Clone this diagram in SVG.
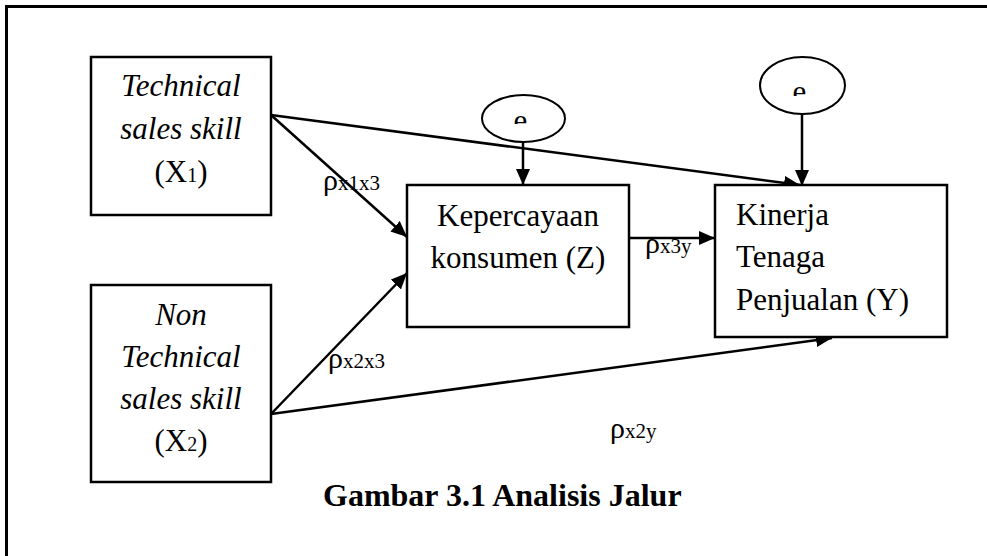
<svg xmlns="http://www.w3.org/2000/svg" width="987" height="556" viewBox="0 0 987 556">
  <style>
    .box { fill: #fff; stroke: #000; stroke-width: 2.5; }
    .err { fill: #fff; stroke: #000; stroke-width: 2; }
    .t { font-family: "Liberation Serif", "Times New Roman", serif; font-size: 31px; fill: #000; }
    .it { font-style: italic; }
    .sub { font-size: 20px; }
    .rho { font-family: "Liberation Serif", "Times New Roman", serif; font-size: 30px; fill: #000; }
    .rsub { font-size: 21px; }
    .edge { fill: none; stroke: #000; stroke-width: 2.5; marker-end: url(#arrow); }
    .cap { font-family: "Liberation Serif", "Times New Roman", serif; font-size: 32px; font-weight: bold; fill: #000; }
  </style>
  <defs>
    <marker id="arrow" markerUnits="userSpaceOnUse" markerWidth="18" markerHeight="16" refX="16" refY="7" orient="auto">
      <path d="M0,0 L16,7 L0,14 Z" fill="#000"/>
    </marker>
    <clipPath id="clipE1"><rect x="500" y="100" width="40" height="24"/></clipPath>
    <clipPath id="clipE2"><rect x="780" y="70" width="40" height="26"/></clipPath>
  </defs>

  <rect width="987" height="556" fill="#fff"/>
  <!-- page frame -->
  <path d="M6.5,556 V6.5 H987" fill="none" stroke="#000" stroke-width="3"/>

  <!-- connectors -->
  <g id="connectors">
    <line class="edge" x1="271" y1="115" x2="407" y2="237"/>
    <line class="edge" x1="271" y1="115" x2="800" y2="185"/>
    <line class="edge" x1="271" y1="414" x2="407" y2="273"/>
    <line class="edge" x1="271" y1="414" x2="832" y2="338"/>
    <line class="edge" x1="629" y1="238" x2="715" y2="238"/>
    <line class="edge" x1="523" y1="142" x2="523" y2="185"/>
    <line class="edge" x1="802" y1="114" x2="802" y2="186"/>
    <text class="rho" x="323" y="190">ρ<tspan class="rsub">x1x3</tspan></text>
    <text class="rho" x="328" y="368">ρ<tspan class="rsub">x2x3</tspan></text>
    <text class="rho" x="645" y="253">ρ<tspan class="rsub">x3y</tspan></text>
    <text class="rho" x="610" y="438">ρ<tspan class="rsub">x2y</tspan></text>
  </g>

  <g id="x1">
    <rect class="box" x="91" y="57" width="180" height="158"/>
    <text class="t it" x="181" y="96" text-anchor="middle">Technical</text>
    <text class="t it" x="181" y="139" text-anchor="middle">sales skill</text>
    <text class="t" x="181" y="182" text-anchor="middle">(X<tspan class="sub">1</tspan>)</text>
  </g>

  <g id="x2">
    <rect class="box" x="91" y="285" width="180" height="197"/>
    <text class="t it" x="181" y="325" text-anchor="middle">Non</text>
    <text class="t it" x="181" y="367" text-anchor="middle">Technical</text>
    <text class="t it" x="181" y="409" text-anchor="middle">sales skill</text>
    <text class="t" x="181" y="451" text-anchor="middle">(X<tspan class="sub">2</tspan>)</text>
  </g>

  <g id="z">
    <rect class="box" x="407" y="185" width="222" height="142"/>
    <text class="t" x="518" y="226" text-anchor="middle">Kepercayaan</text>
    <text class="t" x="518" y="268" text-anchor="middle">konsumen (Z)</text>
  </g>

  <g id="y">
    <rect class="box" x="715" y="185" width="232" height="152"/>
    <text class="t" x="736" y="225">Kinerja</text>
    <text class="t" x="736" y="267">Tenaga</text>
    <text class="t" x="736" y="310">Penjualan (Y)</text>
  </g>

  <g id="e1">
    <ellipse class="err" cx="523.5" cy="118.5" rx="41.5" ry="23.5"/>
    <text class="t" x="520.5" y="131" text-anchor="middle" clip-path="url(#clipE1)">e</text>
  </g>

  <g id="e2">
    <ellipse class="err" cx="802.5" cy="85.5" rx="42.5" ry="28.5"/>
    <text class="t" x="799.5" y="102" text-anchor="middle" clip-path="url(#clipE2)">e</text>
  </g>

  <text class="cap" x="323" y="506">Gambar 3.1 Analisis Jalur</text>
</svg>
